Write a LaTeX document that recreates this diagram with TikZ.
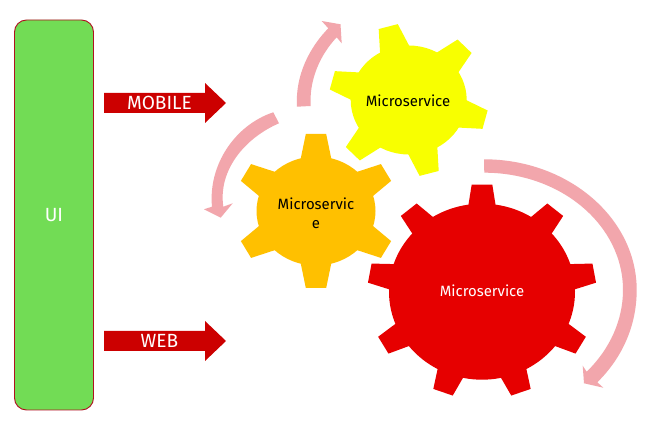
\documentclass[tikz,border=0pt]{standalone}
\usepackage{fontspec}
\setmainfont{Fira Sans}
\definecolor{uigreen}{HTML}{72DC55}
\definecolor{uiedge}{HTML}{B01020}
\definecolor{blockred}{HTML}{CC0000}
\definecolor{pinkband}{HTML}{F2A6AC}
\definecolor{gearorange}{HTML}{FFC000}
\definecolor{gearyellow}{HTML}{F8FF00}
\definecolor{gearred}{HTML}{E60000}
\tikzset{
  px/.style={x=0.75pt,y=0.75pt},
  lbl/.style={inner sep=0pt,font=\fontsize{14.3}{16}\selectfont,text=white},
  geartext/.style={inner sep=0pt,align=center,font=\fontsize{11.2}{14.5}\selectfont},
  band/.style={fill=pinkband,draw=none},
  blockarrow/.style={fill=blockred,draw=none}
}
\begin{document}
\begin{tikzpicture}[px]
\useasboundingbox (0,0) rectangle (651,442);
\fill[white] (0,0) rectangle (651,442);
% UI
\node[draw=uiedge,line width=0.7pt,fill=uigreen,rounded corners=9pt,minimum width=59.25pt,minimum height=292.5pt,inner sep=0pt,lbl] (ui) at (54,227) {UI};
% block arrows
\fill[blockarrow] (104,349)--(205,349)--(205,359)--(226,339)--(205,319)--(205,329)--(104,329)--cycle;
\node[lbl] (mobile) at (159.5,339) {MOBILE};
\fill[blockarrow] (104,111)--(205,111)--(205,121)--(226,101)--(205,81)--(205,91)--(104,91)--cycle;
\node[lbl] (web) at (159.5,101) {WEB};
% orange gear
\begin{scope}[shift={(316,231)}]
\fill[gearorange] (0,0) circle [x radius=59.5,y radius=54.5];
\begin{scope}[xscale=1.05]
\foreach \a in {30,90,...,330}
  \fill[gearorange,rotate=\a] (45,-16)--(77,-9.7)--(77,9.7)--(45,16)--cycle;
\end{scope}
\end{scope}
\node[geartext] (ms1) at (316,229) {Microservic\\e};
% yellow gear
\begin{scope}[shift={(408.7,342)}]
\fill[gearyellow] (0,0) circle [x radius=58,y radius=54.5];
\begin{scope}[xscale=1.04]
\foreach \a in {45,105,...,345}
  \fill[gearyellow,rotate=\a] (45,-16)--(76,-9.5)--(76,9.5)--(45,16)--cycle;
\end{scope}
\end{scope}
\node[geartext] (ms2) at (408,341) {Microservice};
% red gear
\begin{scope}[shift={(482,150.3)}]
\fill[gearred] (0,0) circle [x radius=93,y radius=88];
\begin{scope}[xscale=1.065]
\foreach \a in {90,130,...,410}
  \fill[gearred,rotate=\a] (75,-14.5)--(107,-9.7)--(107,9.7)--(75,14.5)--cycle;
\end{scope}
\end{scope}
\node[geartext,text=white] (ms3) at (482,151) {Microservice};
% curved arrows
\fill[band] (484,282.7) .. controls (568,282.7) and (636.7,224) .. (636.7,152)
  .. controls (636.7,116) and (622,84) .. (597.3,59.7)
  -- (603.3,54.3) -- (584,58.7) -- (582.7,76.3) -- (586.7,70.3)
  .. controls (610,93) and (623,122) .. (623,152)
  .. controls (623,217) and (560.8,269.3) .. (484.3,269.3) -- cycle;
\fill[band] (297,335.3) .. controls (295,367) and (310,395) .. (328.3,413.7)
  -- (321.7,421) -- (340.5,417.7) -- (341.7,398.7) -- (336.7,404.7)
  .. controls (320,387) and (309,362) .. (310.7,336) -- cycle;
\fill[band] (273.3,329.7) .. controls (235,317) and (208,277) .. (212,235.3)
  -- (204,232.7) -- (220.7,224.3) -- (232.7,238.7) -- (223.3,235.3)
  .. controls (218,272) and (245,304) .. (279,318.7) -- cycle;
\end{tikzpicture}
\end{document}
